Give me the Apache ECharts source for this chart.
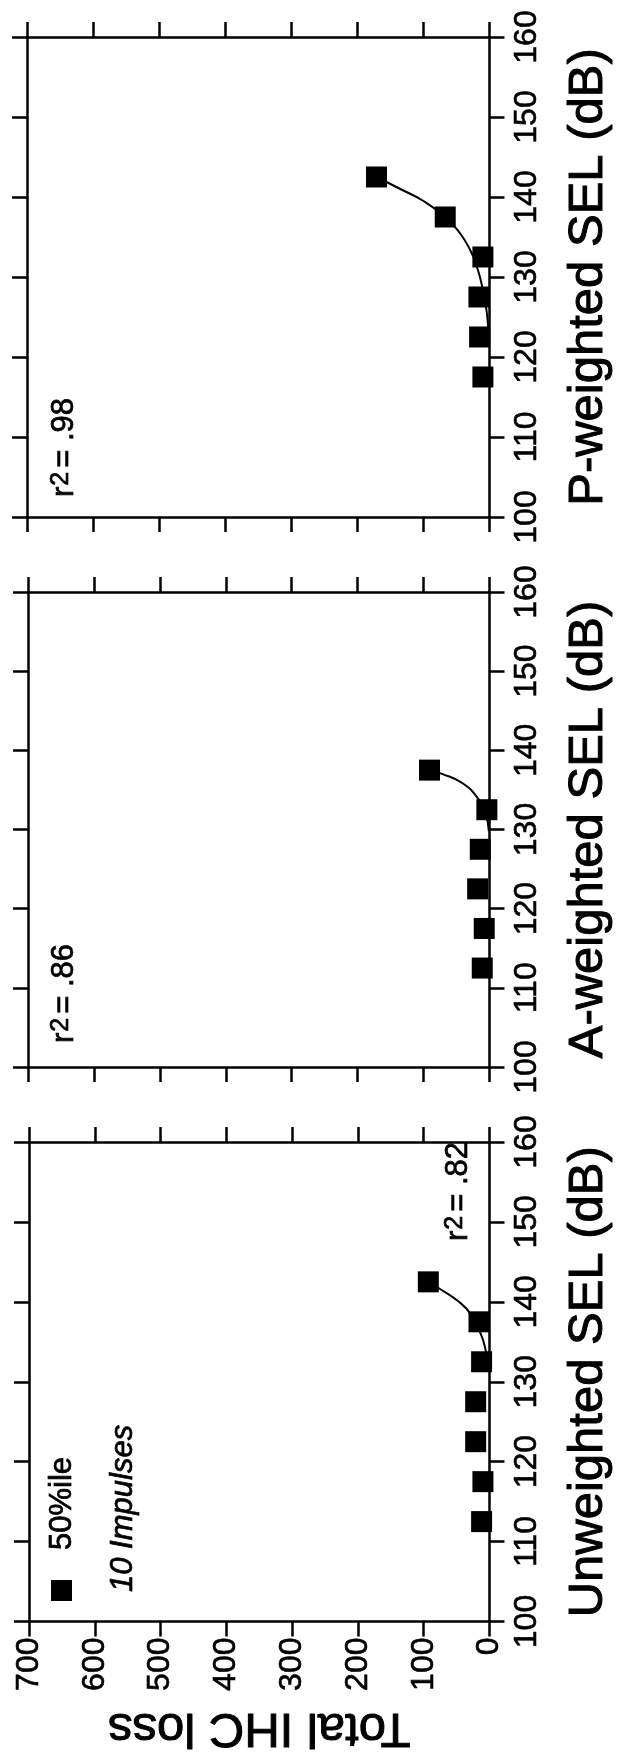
<!DOCTYPE html>
<html><head><meta charset="utf-8">
<script src="https://cdn.jsdelivr.net/npm/echarts@6/dist/echarts.min.js"></script>
<style>html,body{margin:0;padding:0;background:#fff}#c{width:621px;height:1754px}</style>
</head><body><div id="c"></div>
<script>
// ---- data ----
const lossTicks = [0, 700, 100];      // min, max, interval (Total IHC loss)
const selTicks = [100, 160, 10];      // min, max, interval (SEL dB)

const unwSEL  = [112.5, 117.5, 122.5, 127.5, 132.5, 137.5, 142.5];
const unwLoss = [12, 10, 21, 21, 12, 16, 93];
const unwFitSEL  = [142.5, 141.7, 140.1, 138.4, 135.7, 134.0, 133.0];
const unwFitLoss = [93, 77, 48, 28, 12, 6, 4];

const aSEL  = [112.5, 117.5, 122.5, 127.5, 132.5, 137.5];
const aLoss = [11, 8, 18, 14, 4, 91];
const aFitSEL  = [137.5, 137.0, 135.9, 134.1, 132.0, 129.8];
const aFitLoss = [91, 71, 42, 19, 6, 1];

const pSEL  = [117.5, 122.5, 127.5, 132.5, 137.5, 142.5];
const pLoss = [10, 15, 16, 10, 67, 171];
const pFitSEL  = [142.5, 141.0, 139.5, 137.5, 135.5, 133.5, 131.5, 129.5, 127.5, 125.5, 123.5];
const pFitLoss = [171, 135, 100, 67, 45, 30, 20, 13, 8, 4, 2];

const selTitles = ['P-weighted SEL (dB)', 'A-weighted SEL (dB)', 'Unweighted SEL (dB)'];
const r2Values = ['.98', '.86', '.82'];
const lossTitle = 'Total IHC loss';
const legendText = '50%ile';
const impulsesText = '10 Impulses';

// ---- build ----
const FONT = 'Liberation Sans, Arial, Helvetica, sans-serif';
const zip = (xs, ys) => xs.map((x, i) => [x, ys[i]]);

const panels = [
  {sel: pSEL, loss: pLoss, fitSel: pFitSEL, fitLoss: pFitLoss, grid: {left: 27, top: 37, width: 476, height: 480}},
  {sel: aSEL, loss: aLoss, fitSel: aFitSEL, fitLoss: aFitLoss, grid: {left: 28, top: 592, width: 476, height: 475}},
  {sel: unwSEL, loss: unwLoss, fitSel: unwFitSEL, fitLoss: unwFitLoss, grid: {left: 29, top: 1142, width: 480, height: 480}}
];

const lineStyle = {color: '#000', width: 2.5};
const labelStyle = {fontSize: 32, color: '#000', fontFamily: FONT, textBorderColor: '#000', textBorderWidth: 0.6};
const titleStyle = {fontSize: 49, color: '#000', fontFamily: FONT, textBorderColor: '#000', textBorderWidth: 1};
const grid = [], xAxis = [], yAxis = [], series = [];
panels.forEach((p, i) => {
  grid.push(Object.assign({containLabel: false}, p.grid));
  const isBottom = i === 2;
  const xBase = {
    gridIndex: i, type: 'value', min: lossTicks[0], max: lossTicks[1], interval: lossTicks[2],
    inverse: true, splitLine: {show: false},
    axisLine: {onZero: false, lineStyle: lineStyle},
    axisTick: {length: 15, lineStyle: lineStyle}
  };
  xAxis.push(Object.assign({}, xBase, {
    position: 'bottom',
    axisLabel: Object.assign({show: isBottom, rotate: 90, margin: 16}, labelStyle),
    name: isBottom ? lossTitle : '', nameLocation: 'middle', nameRotate: 180, nameGap: 82,
    nameTextStyle: titleStyle
  }));
  xAxis.push(Object.assign({}, xBase, {position: 'top', axisLabel: {show: false}}));
  const yBase = {
    gridIndex: i, type: 'value', min: selTicks[0], max: selTicks[1], interval: selTicks[2],
    splitLine: {show: false},
    axisLine: {onZero: false, lineStyle: lineStyle},
    axisTick: {length: 15, lineStyle: lineStyle}
  };
  yAxis.push(Object.assign({}, yBase, {
    position: 'right',
    axisLabel: Object.assign({rotate: 90, margin: 22}, labelStyle),
    name: selTitles[i], nameLocation: 'middle', nameRotate: 90, nameGap: 74,
    nameTextStyle: titleStyle
  }));
  yAxis.push(Object.assign({}, yBase, {position: 'left', axisLabel: {show: false}}));

  series.push({
    type: 'line', xAxisIndex: 2 * i, yAxisIndex: 2 * i,
    data: zip(p.fitLoss, p.fitSel), smooth: 0.5, showSymbol: false, symbol: 'none',
    lineStyle: {color: '#000', width: 2}, z: 2, silent: true
  });
  series.push({
    type: 'scatter', xAxisIndex: 2 * i, yAxisIndex: 2 * i,
    data: zip(p.loss, p.sel), symbol: 'rect', symbolSize: 21,
    itemStyle: {color: '#000', opacity: 1}, z: 3
  });
});

const r2Rich = {
  a: {fontSize: 31, fontFamily: FONT, fill: '#000', stroke: '#000', lineWidth: 0.7, verticalAlign: 'bottom'},
  b: {fontSize: 25, fontFamily: FONT, fill: '#000', stroke: '#000', lineWidth: 0.7, verticalAlign: 'top', padding: [0, 4, 0, 1]}
};
const r2Pos = [[64, 497], [64, 1043], [458, 1241]];
const graphic = r2Values.map((v, i) => ({
  type: 'text', x: r2Pos[i][0], y: r2Pos[i][1], rotation: Math.PI / 2,
  style: {text: '{a|r}{b|2}{a|= ' + v + '}', rich: r2Rich, align: 'left', verticalAlign: 'middle'}
}));
graphic.push({type: 'rect', shape: {x: 51, y: 1580, width: 21, height: 21}, style: {fill: '#000'}});
graphic.push({type: 'text', x: 62, y: 1550, rotation: Math.PI / 2,
  style: {text: legendText, fontSize: 31, fontFamily: FONT, fill: '#000', align: 'left', verticalAlign: 'middle', stroke: '#000', lineWidth: 0.7}});
graphic.push({type: 'text', x: 123, y: 1592, rotation: Math.PI / 2,
  style: {text: impulsesText, fontSize: 31, fontStyle: 'italic', fontFamily: FONT, fill: '#000', align: 'left', verticalAlign: 'middle', stroke: '#000', lineWidth: 0.7}});

const chart = echarts.init(document.getElementById('c'), null, {renderer: 'canvas'});
chart.setOption({animation: false, backgroundColor: '#fff', grid, xAxis, yAxis, series, graphic});
</script></body></html>
